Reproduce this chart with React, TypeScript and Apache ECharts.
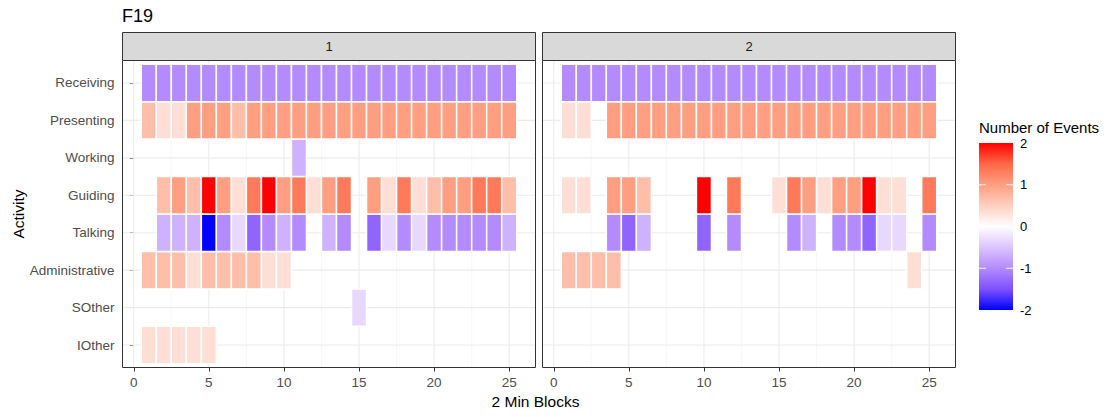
import React, { useEffect, useRef } from "react";
import * as echarts from "echarts";

// ---------- data ----------
const chartTitle = "F19";
const panelLabels = ["1", "2"];
// bottom (index 1) to top (index 8)
const activities = ["IOther", "SOther", "Administrative", "Talking", "Guiding", "Working", "Presenting", "Receiving"];
const blocks = [1, 2, 3, 4, 5, 6, 7, 8, 9, 10, 11, 12, 13, 14, 15, 16, 17, 18, 19, 20, 21, 22, 23, 24, 25];
const xBreaks = [0, 5, 10, 15, 20, 25];
const xMinorBreaks = [2.5, 7.5, 12.5, 17.5, 22.5];
const yBreaks = [1, 2, 3, 4, 5, 6, 7, 8];
const legendBreaks = [-2, -1, 0, 1, 2];
const legendTicks = [-1, 0, 1];
// colours of the diverging scale at -2, -1.5, ..., 2
const scaleColors = ["#0000FF", "#7E51FF", "#B38BFF", "#DCC4FF", "#FFFFFF", "#FFCFBF", "#FF9E81", "#FF6846", "#FF0000"];

const _ = null;
// Panel 1
const receiving1 = [-1, -1, -1, -1, -1, -1, -1, -1, -1, -1, -1, -1, -1, -1, -1, -1, -1, -1, -1, -1, -1, -1, -1, -1, -1];
const presenting1 = [0.67, 0.33, 0.33, 1, 1, 1, 0.67, 1, 1, 1, 1, 1, 1, 1, 1, 1, 1, 1, 1, 1, 1, 1, 1, 1, 1];
const working1 = [_, _, _, _, _, _, _, _, _, _, -0.67, _, _, _, _, _, _, _, _, _, _, _, _, _, _];
const guiding1 = [_, 0.67, 1, 0.67, 2, 1, 0.33, 1.33, 2, 1, 1.33, 0.33, 1, 1.33, _, 1, 0.33, 1.33, 0.33, 0.67, 1, 1, 1.33, 1.33, 0.67];
const talking1 = [_, -0.67, -0.67, -0.67, -2, -1, -0.33, -1.33, -1, -0.67, -1, _, -0.67, -1, _, -1.33, -0.33, -1, -0.33, -1, -1, -1, -1, -1, -0.67];
const administrative1 = [0.67, 0.67, 0.67, 0.33, 0.67, 0.67, 0.67, 0.67, 0.33, 0.33, _, _, _, _, _, _, _, _, _, _, _, _, _, _, _];
const sother1 = [_, _, _, _, _, _, _, _, _, _, _, _, _, _, -0.33, _, _, _, _, _, _, _, _, _, _];
const iother1 = [0.33, 0.33, 0.33, 0.33, 0.33, _, _, _, _, _, _, _, _, _, _, _, _, _, _, _, _, _, _, _, _];
// Panel 2
const receiving2 = [-1, -1, -1, -1, -1, -1, -1, -1, -1, -1, -1, -1, -1, -1, -1, -1, -1, -1, -1, -1, -1, -1, -1, -1, -1];
const presenting2 = [0.33, 0.33, _, 1, 1, 1, 1, 1, 1, 1, 1, 1, 1, 1, 1, 1, 1, 1, 1, 1, 1, 1, 1, 1, 1];
const working2 = [_, _, _, _, _, _, _, _, _, _, _, _, _, _, _, _, _, _, _, _, _, _, _, _, _];
const guiding2 = [0.33, 0.33, _, 1, 1, 0.67, _, _, _, 2, _, 1.33, _, _, 0.33, 1.33, 1, 0.33, 1, 1, 2, 0.33, 0.33, _, 1.33];
const talking2 = [_, _, _, -1, -1.33, -0.67, _, _, _, -1.33, _, -1, _, _, _, -1, -0.67, _, -1, -1, -1.33, -0.33, -0.33, _, -1];
const administrative2 = [0.67, 0.67, 0.67, 0.67, _, _, _, _, _, _, _, _, _, _, _, _, _, _, _, _, _, _, _, 0.33, _];
const sother2 = [_, _, _, _, _, _, _, _, _, _, _, _, _, _, _, _, _, _, _, _, _, _, _, _, _];
const iother2 = [_, _, _, _, _, _, _, _, _, _, _, _, _, _, _, _, _, _, _, _, _, _, _, _, _];

// rows ordered like `activities`
const panelRows = [
  [iother1, sother1, administrative1, talking1, guiding1, working1, presenting1, receiving1],
  [iother2, sother2, administrative2, talking2, guiding2, working2, presenting2, receiving2],
];

// ---------- layout ----------
const FONT = "'Liberation Sans', Arial, sans-serif";
const PANEL_TOP = 60.5;
const PANEL_H = 307;
const PANEL_W = 413;
const PANEL_LEFTS = [122.5, 542.5];
const STRIP_H = 28;

function buildTiles(rows: (number | null)[][]) {
  const out: number[][] = [];
  rows.forEach((row, ai) => {
    row.forEach((v, bi) => {
      if (v !== null && v !== undefined) out.push([blocks[bi], ai + 1, v]);
    });
  });
  return out;
}

export default function App() {
  const ref = useRef<HTMLDivElement>(null);

  useEffect(() => {
    if (!ref.current) return;
    const chart = echarts.init(ref.current, undefined, { renderer: "svg" });

    const gridlineData = [
      ...xBreaks.map((v) => [v, 1, 0]),
      ...xMinorBreaks.map((v) => [v, 1, 1]),
      ...yBreaks.map((v) => [0, v, 2]),
    ];

    const gridlineSeries = (i: number) => ({
      type: "custom",
      xAxisIndex: i,
      yAxisIndex: i,
      z: 1,
      silent: true,
      data: gridlineData,
      renderItem: (params: any, api: any) => {
        const cs = params.coordSys;
        const kind = api.value(2);
        if (kind === 2) {
          const py = api.coord([0, api.value(1)])[1];
          return {
            type: "line",
            shape: { x1: cs.x + 0.5, y1: py, x2: cs.x + cs.width - 0.5, y2: py },
            style: { stroke: "#EBEBEB", lineWidth: 1.1 },
          };
        }
        const px = api.coord([api.value(0), 1])[0];
        return {
          type: "line",
          shape: { x1: px, y1: cs.y + 0.5, x2: px, y2: cs.y + cs.height - 0.5 },
          style: { stroke: kind === 0 ? "#EBEBEB" : "#F3F3F3", lineWidth: kind === 0 ? 1.1 : 0.7 },
        };
      },
    });

    const tileSeries = (i: number) => ({
      type: "custom",
      xAxisIndex: i,
      yAxisIndex: i,
      z: 2,
      dimensions: ["block", "activity", "value"],
      encode: { x: 0, y: 1 },
      data: buildTiles(panelRows[i]),
      renderItem: (params: any, api: any) => {
        const x = api.value(0);
        const y = api.value(1);
        const p0 = api.coord([x - 0.5, y + 0.5]);
        const p1 = api.coord([x + 0.5, y - 0.5]);
        return {
          type: "rect",
          shape: { x: p0[0], y: p0[1], width: p1[0] - p0[0], height: p1[1] - p0[1] },
          style: { fill: api.visual("color"), stroke: "#FFFFFF", lineWidth: 1.5 },
        };
      },
    });

    const gradientStops = scaleColors
      .slice()
      .reverse()
      .map((c, i) => ({ offset: i / (scaleColors.length - 1), color: c }));

    const panelXAxis = (i: number) => ({
      gridIndex: i,
      type: "value",
      min: -0.75,
      max: 26.75,
      axisLine: { show: false },
      axisTick: { show: true, length: 4, customValues: xBreaks, lineStyle: { color: "#333333", width: 1 } },
      axisLabel: { customValues: xBreaks, color: "#4D4D4D", fontSize: 13.5, fontFamily: FONT, margin: 8 },
      splitLine: { show: false },
    });

    const panelYAxis = (i: number) => ({
      gridIndex: i,
      type: "value",
      min: 0.4,
      max: 8.6,
      axisLine: { show: false },
      axisTick: { show: i === 0, length: 4, customValues: yBreaks, lineStyle: { color: "#333333", width: 1 } },
      axisLabel: {
        show: i === 0,
        customValues: yBreaks,
        color: "#4D4D4D",
        fontSize: 13.5,
        fontFamily: FONT,
        margin: 8,
        formatter: (v: number) => activities[Math.round(v) - 1] ?? "",
      },
      splitLine: { show: false },
    });

    const option: any = {
      animation: false,
      backgroundColor: "#FFFFFF",
      textStyle: { fontFamily: FONT },
      grid: [
        { left: PANEL_LEFTS[0], top: PANEL_TOP, width: PANEL_W, height: PANEL_H, show: true, borderColor: "#333333", borderWidth: 1, backgroundColor: "#FFFFFF" },
        { left: PANEL_LEFTS[1], top: PANEL_TOP, width: PANEL_W, height: PANEL_H, show: true, borderColor: "#333333", borderWidth: 1, backgroundColor: "#FFFFFF" },
        { left: 979, top: 143, width: 34, height: 167 },
      ],
      xAxis: [
        panelXAxis(0),
        panelXAxis(1),
        { gridIndex: 2, type: "value", min: 0, max: 1, show: false },
      ],
      yAxis: [
        panelYAxis(0),
        panelYAxis(1),
        {
          gridIndex: 2,
          type: "value",
          position: "right",
          min: -2,
          max: 2,
          interval: 1,
          axisLine: { show: false },
          axisTick: { show: false },
          splitLine: { show: false },
          axisLabel: { color: "#000000", fontSize: 13, fontFamily: FONT, margin: 7 },
        },
      ],
      visualMap: {
        type: "continuous",
        show: false,
        min: -2,
        max: 2,
        dimension: 2,
        seriesIndex: [2, 3],
        inRange: { color: scaleColors },
      },
      series: [
        gridlineSeries(0),
        gridlineSeries(1),
        tileSeries(0),
        tileSeries(1),
        {
          type: "custom",
          xAxisIndex: 2,
          yAxisIndex: 2,
          silent: true,
          data: [[0, legendBreaks[0]]],
          renderItem: (params: any, api: any) => {
            const p0 = api.coord([0, legendBreaks[legendBreaks.length - 1]]);
            const p1 = api.coord([1, legendBreaks[0]]);
            return {
              type: "rect",
              shape: { x: p0[0], y: p0[1], width: p1[0] - p0[0], height: p1[1] - p0[1] },
              style: {
                fill: new echarts.graphic.LinearGradient(0, 0, 0, 1, gradientStops),
              },
            };
          },
        },
        {
          type: "custom",
          xAxisIndex: 2,
          yAxisIndex: 2,
          silent: true,
          z: 3,
          data: legendTicks.map((v) => [0, v]),
          renderItem: (params: any, api: any) => {
            const y = api.coord([0, api.value(1)])[1];
            const xl = api.coord([0, 0])[0];
            const xr = api.coord([1, 0])[0];
            const len = (xr - xl) / 5;
            return {
              type: "group",
              children: [
                { type: "line", shape: { x1: xl, y1: y, x2: xl + len, y2: y }, style: { stroke: "#FFFFFF", lineWidth: 1 } },
                { type: "line", shape: { x1: xr - len, y1: y, x2: xr, y2: y }, style: { stroke: "#FFFFFF", lineWidth: 1 } },
              ],
            };
          },
        },
      ],
      graphic: [
        {
          type: "text",
          x: 122,
          y: 15.5,
          style: { text: chartTitle, fill: "#000000", font: `18px ${FONT}`, align: "left", verticalAlign: "middle" },
        },
        ...panelLabels.flatMap((lab, i) => [
          {
            type: "rect",
            shape: { x: PANEL_LEFTS[i], y: PANEL_TOP - STRIP_H, width: PANEL_W, height: STRIP_H },
            style: { fill: "#D9D9D9", stroke: "#333333", lineWidth: 1 },
          },
          {
            type: "text",
            x: PANEL_LEFTS[i] + PANEL_W / 2,
            y: PANEL_TOP - STRIP_H / 2,
            style: { text: lab, fill: "#1A1A1A", font: `13px ${FONT}`, align: "center", verticalAlign: "middle" },
          },
        ]),
        {
          type: "text",
          x: 535.5,
          y: 401,
          style: { text: "2 Min Blocks", fill: "#000000", font: `15.5px ${FONT}`, align: "center", verticalAlign: "middle" },
        },
        {
          type: "text",
          x: 18,
          y: 214,
          rotation: Math.PI / 2,
          style: { text: "Activity", fill: "#000000", font: `15.5px ${FONT}`, align: "center", verticalAlign: "middle" },
        },
        {
          type: "text",
          x: 979,
          y: 127,
          style: { text: "Number of Events", fill: "#000000", font: `15px ${FONT}`, align: "left", verticalAlign: "middle" },
        },
      ],
    };

    chart.setOption(option);
    return () => chart.dispose();
  }, []);

  return (
    <div
      ref={ref}
      style={{ position: "absolute", left: 0, top: 0, width: 1110, height: 417 }}
    />
  );
}
